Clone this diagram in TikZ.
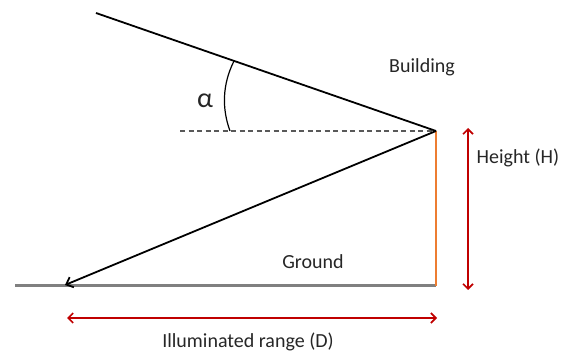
\documentclass[tikz,border=0pt]{standalone}
\usepackage{fontspec}
\setmainfont{Carlito}
\usepackage{tikz}
\usetikzlibrary{arrows.meta}
\definecolor{RedDark}{HTML}{C00000}
\definecolor{Orange}{HTML}{ED7D31}
\definecolor{GrayMid}{HTML}{808080}
\definecolor{GrayDash}{HTML}{595959}
\tikzset{
  lbl/.style={font=\fontsize{20}{24}\selectfont, inner sep=0pt, text=black!85},
  ray/.style={line width=1.8pt, color=black},
  rayArr/.style={-{Straight Barb[length=6pt,width=11pt]}, line width=1.8pt, color=black},
  dimArr/.style={{Straight Barb[length=5pt,width=10pt]}-{Straight Barb[length=5pt,width=10pt]}, line width=1.6pt, color=RedDark},
}

\begin{document}
\begin{tikzpicture}[x=1pt, y=1pt]
\useasboundingbox (0,0) rectangle (567,353);

% Key points of the geometry
\coordinate (apex) at (436,222);
\coordinate (sky) at (96,340);
\coordinate (hit) at (65,68);
\coordinate (gndL) at (15,67);
\coordinate (base) at (436,67);
\coordinate (dash) at (180,222);
\coordinate (hTop) at (468,225);
\coordinate (hBot) at (468,63);
\coordinate (dL) at (67,35);
\coordinate (dR) at (437,35);

% Ground and building
\draw[line width=3pt, color=GrayMid] (gndL) -- (base);
\draw[line width=2.4pt, color=Orange] (apex) -- (base);

% Rays and horizontal reference
\draw[line width=1.2pt, color=GrayDash, dash pattern=on 5pt off 3.5pt] (dash) -- (apex);
\draw[ray] (sky) -- (apex);
\draw[rayArr] (apex) -- (hit);

% Angle
\draw[line width=1.2pt] (234,292) .. controls (222,268) and (222,244) .. (230,222);
\node[lbl, font=\fontsize{28}{32}\selectfont] (alpha) at (205,252) {α};

% Dimensions
\draw[dimArr] (hTop) -- (hBot);
\draw[dimArr] (dL) -- (dR);

% Labels
\node[lbl] (bldg) at (422,286) {Building};
\node[lbl] (gnd) at (313,91) {Ground};
\node[lbl] (hgt) at (518,195) {Height (H)};
\node[lbl] (rng) at (248,11) {Illuminated range (D)};

\end{tikzpicture}
\end{document}
